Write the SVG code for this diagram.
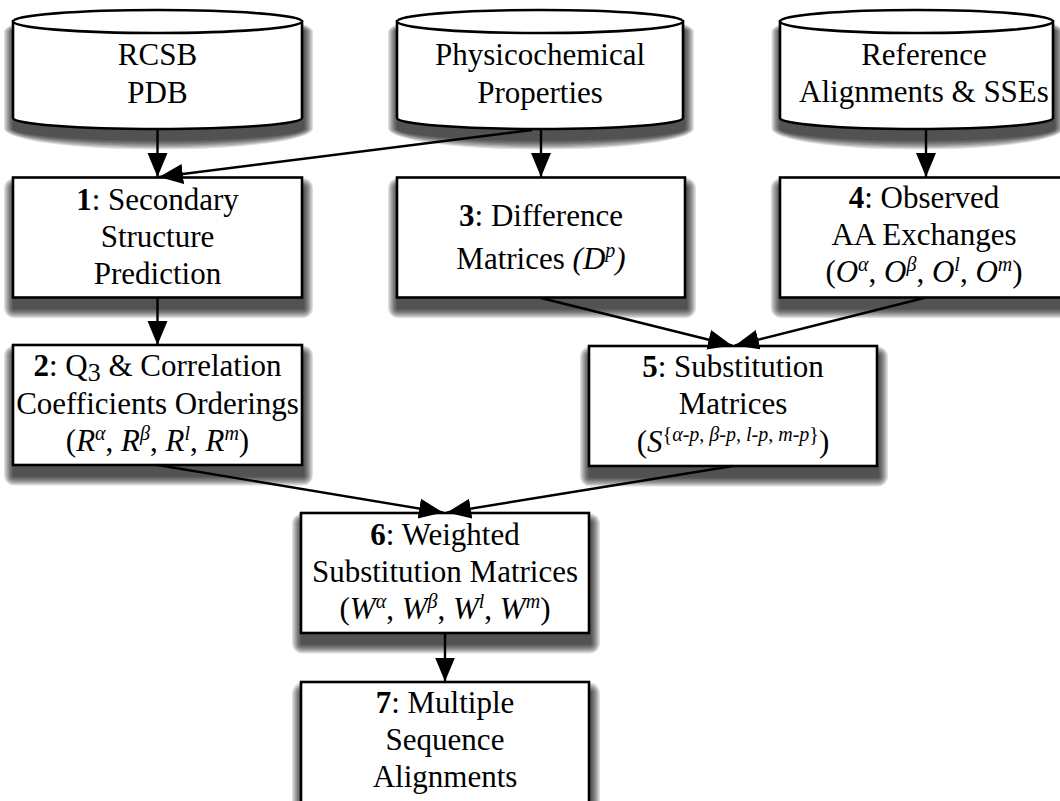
<svg xmlns="http://www.w3.org/2000/svg" xmlns:xlink="http://www.w3.org/1999/xlink" width="1060" height="801" viewBox="0 0 1060 801">
<style>
.n{fill:#fff;stroke:#000;stroke-width:2.6}
.s rect{fill:#000;fill-opacity:0.13}
text{font-family:'Liberation Serif',serif;font-size:31px;fill:#000;text-anchor:middle}
.b{font-weight:bold}
.i{font-style:italic}
.c{fill:none;stroke:#000;stroke-width:2.4}
</style>
<defs>
<marker id="ah" markerUnits="userSpaceOnUse" markerWidth="26" markerHeight="22" refX="24" refY="10" orient="auto" viewBox="0 0 26 22">
<path d="M0,0 L24,10 L0,20 Z" fill="#000"/>
</marker>
<g id="shb" class="s">
<rect x="-0.25" y="9.25" width="291.5" height="122.5" rx="1.25"/>
<rect x="-1.5" y="8" width="294" height="125" rx="2.5"/>
<rect x="-2.75" y="6.75" width="296.5" height="127.5" rx="3.75"/>
<rect x="-4" y="5.5" width="299" height="130" rx="5"/>
<rect x="-5.25" y="4.25" width="301.5" height="132.5" rx="6.25"/>
<rect x="-6.5" y="3" width="304" height="135" rx="7.5"/>
<rect x="-7.75" y="1.75" width="306.5" height="137.5" rx="8.75"/>
<rect x="-9" y="0.5" width="309" height="140" rx="10"/>
</g>
<g id="shc" class="s">
<rect x="-0.25" y="9.25" width="291.5" height="121.5" rx="145.75" ry="12.25"/>
<rect x="-1.5" y="8" width="294" height="124" rx="147" ry="13.5"/>
<rect x="-2.75" y="6.75" width="296.5" height="126.5" rx="148.25" ry="14.75"/>
<rect x="-4" y="5.5" width="299" height="129" rx="149.5" ry="16"/>
<rect x="-5.25" y="4.25" width="301.5" height="131.5" rx="150.75" ry="17.25"/>
<rect x="-6.5" y="3" width="304" height="134" rx="152" ry="18.5"/>
<rect x="-7.75" y="1.75" width="306.5" height="136.5" rx="153.25" ry="19.75"/>
<rect x="-9" y="0.5" width="309" height="139" rx="154.5" ry="21"/>
</g>
</defs>
<rect width="1060" height="801" fill="#fff"/>

<g id="db-rcsb">
<use href="#shc" xlink:href="#shc" transform="translate(13,10)"/>
<path class="n" d="M13,21.5 V118 A144.5,11 0 0 0 302,118 V21.5 Z"/>
<ellipse class="n" cx="157.5" cy="21.5" rx="144.5" ry="11.5"/>
<text x="157.5" y="65">RCSB</text>
<text x="157.5" y="103">PDB</text>
</g>

<g id="db-phys">
<use href="#shc" xlink:href="#shc" transform="translate(397,10) scale(0.98962,1)"/>
<path class="n" d="M397,21.5 V118 A143,11 0 0 0 683,118 V21.5 Z"/>
<ellipse class="n" cx="540" cy="21.5" rx="143" ry="11.5"/>
<text x="540" y="65">Physicochemical</text>
<text x="540" y="103">Properties</text>
</g>

<g id="db-ref">
<use href="#shc" xlink:href="#shc" transform="translate(780,10) scale(0.94464,1)"/>
<path class="n" d="M780,21.5 V118 A136.5,11 0 0 0 1053,118 V21.5 Z"/>
<ellipse class="n" cx="916.5" cy="21.5" rx="136.5" ry="11.5"/>
<text x="924" y="65">Reference</text>
<text x="924" y="102">Alignments &amp; SSEs</text>
</g>

<g id="n1">
<use href="#shb" xlink:href="#shb" transform="translate(13,177.5)"/>
<rect class="n" x="13" y="177.5" width="289" height="120"/>
<text x="157.5" y="210"><tspan class="b">1</tspan>: Secondary</text>
<text x="157.5" y="247">Structure</text>
<text x="157.5" y="284">Prediction</text>
</g>

<g id="n2">
<use href="#shb" xlink:href="#shb" transform="translate(13,345)"/>
<rect class="n" x="13" y="345" width="289" height="120"/>
<text x="157.5" y="376"><tspan class="b">2</tspan>: Q<tspan font-size="26" dy="5">3</tspan><tspan dy="-5"> &amp; Correlation</tspan></text>
<text x="157.5" y="414">Coefficients Orderings</text>
<text x="157.5" y="451">(<tspan class="i">R</tspan><tspan class="i" font-size="20" dy="-11">α</tspan><tspan dy="11">, </tspan><tspan class="i">R</tspan><tspan class="i" font-size="20" dy="-11">β</tspan><tspan dy="11">, </tspan><tspan class="i">R</tspan><tspan class="i" font-size="20" dy="-11">l</tspan><tspan dy="11">, </tspan><tspan class="i">R</tspan><tspan class="i" font-size="20" dy="-11">m</tspan><tspan dy="11">)</tspan></text>
</g>

<g id="n3">
<use href="#shb" xlink:href="#shb" transform="translate(397,177.5) scale(0.99654,1)"/>
<rect class="n" x="397" y="177.5" width="288" height="120"/>
<text x="541" y="226"><tspan class="b">3</tspan>: Difference</text>
<text x="541" y="269">Matrices <tspan class="i">(D</tspan><tspan class="i" font-size="20" dy="-12">p</tspan><tspan class="i" dy="12">)</tspan></text>
</g>

<g id="n4">
<use href="#shb" xlink:href="#shb" transform="translate(780,177.5) scale(1.03806,1)"/>
<rect class="n" x="780" y="177.5" width="300" height="120"/>
<text x="924" y="208"><tspan class="b">4</tspan>: Observed</text>
<text x="924" y="245">AA Exchanges</text>
<text x="924" y="282">(<tspan class="i">O</tspan><tspan class="i" font-size="20" dy="-11">α</tspan><tspan dy="11">, </tspan><tspan class="i">O</tspan><tspan class="i" font-size="20" dy="-11">β</tspan><tspan dy="11">, </tspan><tspan class="i">O</tspan><tspan class="i" font-size="20" dy="-11">l</tspan><tspan dy="11">, </tspan><tspan class="i">O</tspan><tspan class="i" font-size="20" dy="-11">m</tspan><tspan dy="11">)</tspan></text>
</g>

<g id="n5">
<use href="#shb" xlink:href="#shb" transform="translate(589,346) scale(0.99654,1)"/>
<rect class="n" x="589" y="346" width="288" height="120"/>
<text x="733" y="377"><tspan class="b">5</tspan>: Substitution</text>
<text x="733" y="414">Matrices</text>
<text x="733" y="452">(<tspan class="i">S</tspan><tspan font-size="20" dy="-11">{<tspan class="i">α-p</tspan>, <tspan class="i">β-p</tspan>, <tspan class="i">l-p</tspan>, <tspan class="i">m-p</tspan>}</tspan><tspan dy="11">)</tspan></text>
</g>

<g id="n6">
<use href="#shb" xlink:href="#shb" transform="translate(301,513) scale(0.99654,1)"/>
<rect class="n" x="301" y="513" width="288" height="120"/>
<text x="445" y="545"><tspan class="b">6</tspan>: Weighted</text>
<text x="445" y="582">Substitution Matrices</text>
<text x="445" y="619">(<tspan class="i">W</tspan><tspan class="i" font-size="20" dy="-11">α</tspan><tspan dy="11">, </tspan><tspan class="i">W</tspan><tspan class="i" font-size="20" dy="-11">β</tspan><tspan dy="11">, </tspan><tspan class="i">W</tspan><tspan class="i" font-size="20" dy="-11">l</tspan><tspan dy="11">, </tspan><tspan class="i">W</tspan><tspan class="i" font-size="20" dy="-11">m</tspan><tspan dy="11">)</tspan></text>
</g>

<g id="n7">
<use href="#shb" xlink:href="#shb" transform="translate(301,682) scale(0.99654,1.0833)"/>
<rect class="n" x="301" y="682" width="288" height="130"/>
<text x="445" y="713"><tspan class="b">7</tspan>: Multiple</text>
<text x="445" y="750">Sequence</text>
<text x="445" y="787">Alignments</text>
</g>

<g id="connectors">
<line class="c" x1="157.5" y1="129" x2="157.5" y2="177" marker-end="url(#ah)"/>
<line class="c" x1="532" y1="130" x2="159" y2="177" marker-end="url(#ah)"/>
<line class="c" x1="541" y1="129" x2="541" y2="177" marker-end="url(#ah)"/>
<line class="c" x1="926" y1="129" x2="926" y2="177" marker-end="url(#ah)"/>
<line class="c" x1="157.5" y1="298" x2="157.5" y2="345" marker-end="url(#ah)"/>
<line class="c" x1="541" y1="298" x2="732" y2="345.5" marker-end="url(#ah)"/>
<line class="c" x1="924" y1="298" x2="735" y2="345.5" marker-end="url(#ah)"/>
<line class="c" x1="157.5" y1="465" x2="443" y2="512.5" marker-end="url(#ah)"/>
<line class="c" x1="733" y1="466" x2="447" y2="512.5" marker-end="url(#ah)"/>
<line class="c" x1="445" y1="633" x2="445" y2="681.5" marker-end="url(#ah)"/>
</g>
</svg>
